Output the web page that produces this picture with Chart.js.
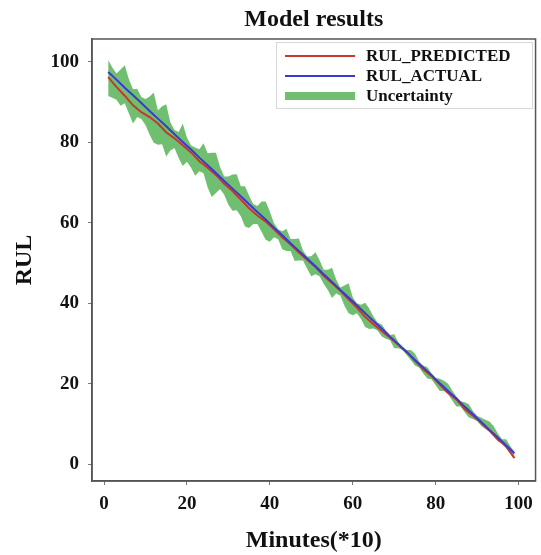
<!DOCTYPE html>
<html>
<head>
<meta charset="utf-8">
<script src="https://cdn.jsdelivr.net/npm/chart.js@4.4.1/dist/chart.umd.min.js"></script>
<style>
  html, body { margin: 0; padding: 0; background: #fff; }
  #wrap { width: 541px; height: 555px; }
</style>
</head>
<body>
<div id="wrap"><canvas id="rulChart" width="541" height="555"></canvas></div>
<script>
// values
var minutes = [1, 3, 5, 7, 9, 11, 13, 15, 17, 19, 21, 23, 25, 27, 29, 31, 33, 35, 37, 39,
    41, 43, 45, 47, 49, 51, 53, 55, 57, 59, 61, 63, 65, 67, 69, 71, 73, 75, 77, 79,
    81, 83, 85, 87, 89, 91, 93, 95, 97, 99];
var rulActual = [97.5, 95.6, 93.6, 91.7, 89.8, 87.8, 85.9, 84.0, 82.0, 80.1, 78.2, 76.2, 74.3, 72.4, 70.4, 68.5, 66.6, 64.6, 62.7, 60.8,
    58.8, 56.9, 54.9, 53.0, 51.1, 49.2, 47.2, 45.3, 43.3, 41.4, 39.5, 37.5, 35.6, 33.7, 31.7, 29.8, 27.9, 25.9, 24.0, 22.1,
    20.1, 18.2, 16.3, 14.3, 12.4, 10.5, 8.5, 6.6, 4.7, 2.7];
var rulPredicted = [96.2, 93.8, 91.6, 89.2, 87.5, 86.3, 84.7, 82.5, 81.0, 79.3, 77.5, 75.3, 73.7, 71.9, 69.7, 67.9, 65.8, 63.6, 61.8, 60.3,
    58.4, 56.4, 54.6, 52.6, 50.8, 49.0, 46.8, 45.0, 43.1, 41.0, 38.9, 36.6, 34.8, 33.1, 31.4, 29.7, 27.9, 25.7, 23.6, 21.9,
    19.8, 17.7, 16.1, 13.7, 12.0, 10.2, 8.3, 6.2, 4.4, 1.5];

// uncertainty band, one value per minute step
var bandMinutes = [1, 2, 3, 4, 5, 6, 7, 8, 9, 10, 11, 12, 13, 14, 15, 16, 17, 18, 19, 20,
    21, 22, 23, 24, 25, 26, 27, 28, 29, 30, 31, 32, 33, 34, 35, 36, 37, 38, 39, 40,
    41, 42, 43, 44, 45, 46, 47, 48, 49, 50, 51, 52, 53, 54, 55, 56, 57, 58, 59, 60,
    61, 62, 63, 64, 65, 66, 67, 68, 69, 70, 71, 72, 73, 74, 75, 76, 77, 78, 79, 80,
    81, 82, 83, 84, 85, 86, 87, 88, 89, 90, 91, 92, 93, 94, 95, 96, 97, 98, 99];
var upperBound = [100.5, 98.6, 97.1, 98.1, 99.2, 95.7, 93.2, 93.3, 91.3, 90.8,
    91.4, 92.4, 87.9, 89.0, 89.5, 85.0, 83.1, 82.6, 84.6, 81.2,
    79.2, 78.7, 78.3, 79.8, 77.3, 77.4, 77.4, 73.9, 71.5, 71.5,
    72.0, 72.1, 69.1, 69.1, 66.7, 64.7, 64.2, 65.3, 65.3, 62.8,
    59.9, 58.4, 57.9, 58.5, 56.0, 56.0, 56.1, 53.1, 51.6, 51.7,
    52.7, 50.7, 48.3, 48.3, 48.8, 45.9, 43.9, 44.4, 45.0, 41.5,
    40.0, 39.6, 40.1, 38.6, 36.7, 35.2, 34.7, 33.2, 32.1, 32.3,
    30.3, 29.2, 28.4, 28.4, 27.5, 25.5, 24.5, 24.1, 22.6, 21.4,
    21.2, 20.7, 20.0, 18.3, 16.8, 15.6, 15.4, 14.9, 13.2, 12.0,
    11.5, 11.0, 10.6, 9.4, 7.6, 6.2, 6.2, 4.5, 3.1];
var lowerBound = [91.5, 91.1, 90.6, 89.1, 89.7, 87.2, 84.7, 86.3, 85.8, 84.3,
    81.9, 79.9, 79.4, 79.5, 76.5, 78.0, 78.6, 76.1, 74.1, 75.2,
    73.7, 71.7, 72.8, 72.3, 68.8, 66.4, 67.4, 68.4, 67.0, 64.5,
    63.0, 63.1, 61.6, 59.1, 58.7, 59.7, 59.7, 57.8, 55.8, 55.3,
    56.4, 55.9, 53.4, 53.0, 53.0, 50.5, 50.6, 50.6, 48.6, 46.7,
    47.2, 46.7, 44.8, 43.3, 41.3, 42.4, 41.9, 39.4, 37.5, 37.0,
    37.5, 36.1, 34.1, 33.6, 33.7, 33.2, 31.7, 31.2, 30.8, 28.8,
    28.8, 28.4, 27.1, 25.9, 24.5, 24.0, 22.5, 21.3, 21.1, 19.6,
    18.2, 18.2, 17.4, 15.8, 14.3, 14.3, 12.9, 11.6, 11.2, 10.7,
    9.5, 8.7, 8.1, 6.8, 5.6, 5.1, 3.9, 2.7, 1.6];

var xTicks = [0, 20, 40, 60, 80, 100];
var yTicks = [0, 20, 40, 60, 80, 100];
var legendLabels = ['RUL_PREDICTED', 'RUL_ACTUAL', 'Uncertainty'];

var SERIF = '"Liberation Serif", "Times New Roman", serif';
var RED = '#c8372d';
var BLUE = '#3a3ad0';
var GREEN = 'rgba(96, 184, 96, 0.9)';

function points(xs, ys) {
    return xs.map(function (x, i) { return { x: x, y: ys[i] }; });
}

// frame, title and boxed legend drawn inside the plot
var decorations = {
    id: 'decorations',
    afterDraw: function (chart) {
        var ctx = chart.ctx;
        var a = chart.chartArea;
        ctx.save();

        ctx.strokeStyle = '#555';
        ctx.lineWidth = 1.5;
        ctx.strokeRect(a.left, a.top, a.right - a.left, a.bottom - a.top);

        ctx.fillStyle = '#111';
        ctx.font = 'bold 24px ' + SERIF;
        ctx.textAlign = 'center';
        ctx.textBaseline = 'alphabetic';
        ctx.fillText('Model results', (a.left + a.right) / 2, 26);

        // legend box
        ctx.strokeStyle = '#d8d8d8';
        ctx.lineWidth = 1;
        ctx.strokeRect(276.5, 42.5, 256, 66);

        var colors = [RED, BLUE, GREEN];
        ctx.font = 'bold 17px ' + SERIF;
        ctx.textAlign = 'left';
        ctx.textBaseline = 'middle';
        legendLabels.forEach(function (label, i) {
            var y = 56 + i * 20;
            if (i < 2) {
                ctx.strokeStyle = colors[i];
                ctx.lineWidth = 2;
                ctx.beginPath();
                ctx.moveTo(285, y);
                ctx.lineTo(355, y);
                ctx.stroke();
            } else {
                ctx.fillStyle = colors[i];
                ctx.fillRect(285, y - 4, 70, 8);
            }
            ctx.fillStyle = '#111';
            ctx.fillText(label, 366, y + 1);
        });
        ctx.restore();
    }
};

var ctx = document.getElementById('rulChart').getContext('2d');
new Chart(ctx, {
    type: 'line',
    data: {
        datasets: [
            {
                label: legendLabels[1],
                data: points(minutes, rulActual),
                borderColor: BLUE,
                borderWidth: 2,
                pointRadius: 0,
                fill: false,
                order: 1
            },
            {
                label: legendLabels[0],
                data: points(minutes, rulPredicted),
                borderColor: RED,
                borderWidth: 2,
                pointRadius: 0,
                fill: false,
                order: 2
            },
            {
                label: legendLabels[2],
                data: points(bandMinutes, upperBound),
                borderColor: GREEN,
                backgroundColor: GREEN,
                borderWidth: 0,
                pointRadius: 0,
                fill: '+1',
                order: 3
            },
            {
                label: 'lower',
                data: points(bandMinutes, lowerBound),
                borderColor: GREEN,
                borderWidth: 0,
                pointRadius: 0,
                fill: false,
                order: 4
            }
        ]
    },
    options: {
        responsive: false,
        animation: false,
        layout: { padding: { left: 0, right: 5, top: 39, bottom: 0 } },
        plugins: {
            legend: { display: false },
            title: { display: false },
            tooltip: { enabled: false }
        },
        scales: {
            x: {
                type: 'linear',
                min: -2.9,
                max: 104.1,
                afterBuildTicks: function (scale) {
                    scale.ticks = xTicks.map(function (v) { return { value: v }; });
                },
                afterFit: function (scale) { scale.height = 74; },
                border: { display: true, color: '#555', width: 1.5 },
                grid: { display: true, drawOnChartArea: false, drawTicks: true, tickLength: 4, color: '#777' },
                ticks: {
                    padding: 8,
                    maxRotation: 0,
                    color: '#111',
                    font: { family: SERIF, size: 19, weight: 'bold' }
                },
                title: {
                    display: true,
                    text: 'Minutes(*10)',
                    color: '#111',
                    font: { family: SERIF, size: 24, weight: 'bold' },
                    padding: { top: 10, bottom: 0 }
                }
            },
            y: {
                type: 'linear',
                min: -4.2,
                max: 105.7,
                afterBuildTicks: function (scale) {
                    scale.ticks = yTicks.map(function (v) { return { value: v }; });
                },
                afterFit: function (scale) { scale.width = 92; },
                border: { display: true, color: '#555', width: 1.5 },
                grid: { display: true, drawOnChartArea: false, drawTicks: true, tickLength: 4, color: '#777' },
                ticks: {
                    padding: 9,
                    color: '#111',
                    font: { family: SERIF, size: 19, weight: 'bold' }
                },
                title: {
                    display: true,
                    text: 'RUL',
                    color: '#111',
                    font: { family: SERIF, size: 24, weight: 'bold' },
                    padding: { top: 10, bottom: 0 }
                }
            }
        }
    },
    plugins: [decorations]
});
</script>
</body>
</html>
